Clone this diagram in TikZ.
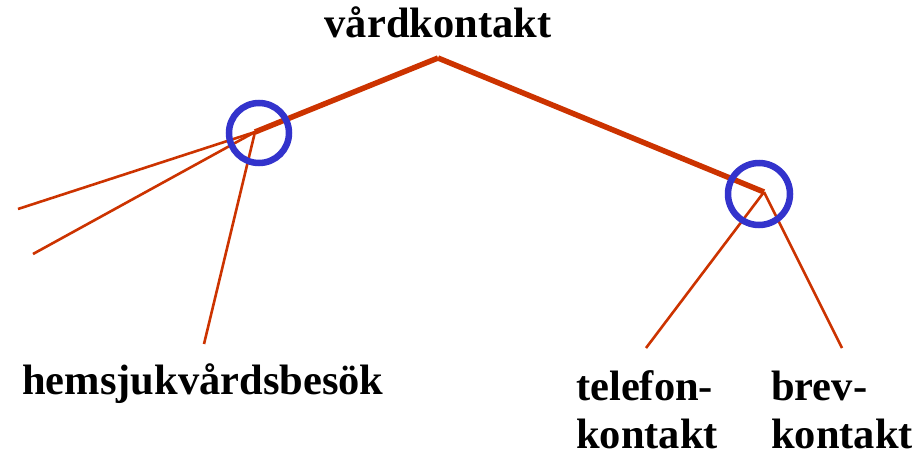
\documentclass[tikz,border=0pt]{standalone}
\usepackage{fontspec}
\setmainfont{Liberation Serif}
\usepackage{tikz}
\usetikzlibrary{arrows.meta}

\definecolor{branchred}{RGB}{204,51,0}
\definecolor{ringblue}{RGB}{51,51,204}

\begin{document}
\begin{tikzpicture}[x=1pt,y=-1pt,
    wordlbl/.style={font=\bfseries\fontsize{42.5}{48}\selectfont,inner sep=0pt,align=left},
    trunk/.style={draw=branchred,line width=5.5pt},
    twig/.style={draw=branchred,line width=2.6pt},
    ring/.style={draw=ringblue,line width=6.5pt}]
\useasboundingbox (0,0) rectangle (920,458);
\begin{scope}
    \node[wordlbl,anchor=base] (top) at (438,37) {vårdkontakt};
    \node[wordlbl,anchor=base west] (hem) at (22,394) {hemsjukvårdsbesök};
    \node[wordlbl,anchor=base west] (tel) at (576,448) {telefon-\\kontakt};
    \node[wordlbl,anchor=base west] (brev) at (771,448) {brev-\\kontakt};

    \coordinate (a) at (438,58);
    \coordinate (b) at (255,132);
    \coordinate (c) at (764,192);
    \coordinate (d) at (18,209);
    \coordinate (e) at (33,254);
    \coordinate (f) at (204,344);
    \coordinate (g) at (646,348);
    \coordinate (h) at (842,348);

    \path [twig] (b) edge (d);
    \path [twig] (b) edge (e);
    \path [twig] (b) edge (f);
    \path [twig] (c) edge (g);
    \path [twig] (c) edge (h);
    \path [trunk] (a) edge (b);
    \path [trunk] (a) edge (c);

    \draw [ring] (259,133) circle (30);
    \draw [ring] (759,194) circle (31);
\end{scope}
\end{tikzpicture}
\end{document}
